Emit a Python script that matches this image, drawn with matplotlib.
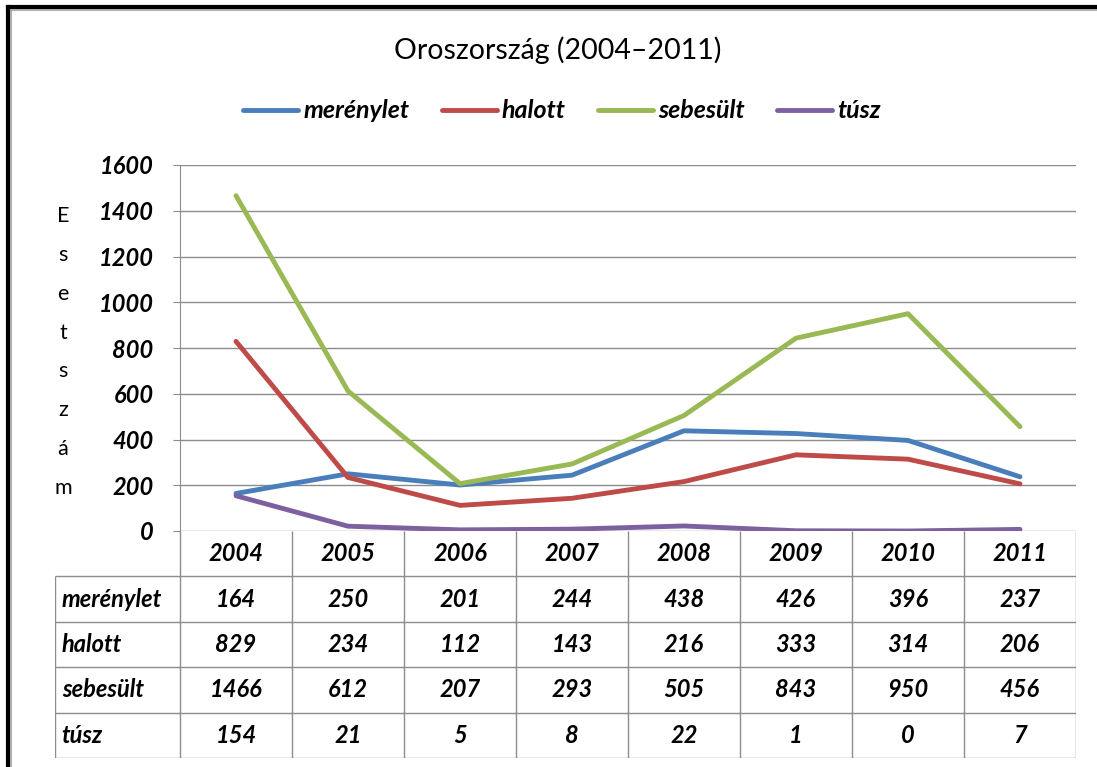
import matplotlib
matplotlib.use("Agg")
import matplotlib.pyplot as plt
from matplotlib.lines import Line2D

plt.rcParams['font.family'] = ['Lato', 'DejaVu Sans']

# adatok
years = ['2004', '2005', '2006', '2007', '2008', '2009', '2010', '2011']
merenylet = [164, 250, 201, 244, 438, 426, 396, 237]
halott = [829, 234, 112, 143, 216, 333, 314, 206]
sebesult = [1466, 612, 207, 293, 505, 843, 950, 456]
tusz = [154, 21, 5, 8, 22, 1, 0, 7]

series_names = ['merénylet', 'halott', 'sebesült', 'túsz']
series_values = [merenylet, halott, sebesult, tusz]
colors = ['#4A7EBB', '#BE4B48', '#98B954', '#7D60A0']

W, H = 1097, 767
fig = plt.figure(figsize=(W / 100, H / 100), dpi=100)
grid_c = '#8C8C8C'
bi = dict(fontsize=17, fontweight='bold', fontstyle='italic')

# plot area in pixels: x 180..1076, y 165..531
x0, x1, ytop, ybot = 180, 1076, 165, 531
ax = fig.add_axes([x0 / W, (H - ybot) / H, (x1 - x0) / W, (ybot - ytop) / H])

X = list(range(len(years)))
for name, vals, c in zip(series_names, series_values, colors):
    ax.plot(X, vals, color=c, lw=3.5, label=name, solid_capstyle='round', solid_joinstyle='round')

ax.set_xlim(-0.5, len(years) - 0.5)
ax.set_ylim(0, 1600)
ax.set_yticks(range(0, 1601, 200))
ax.set_xticks([])
ax.grid(axis='y', color=grid_c, lw=1)
ax.set_axisbelow(True)
for s in ['top', 'right', 'bottom']:
    ax.spines[s].set_visible(False)
ax.spines['left'].set_color(grid_c)
ax.tick_params(axis='y', direction='out', length=5, color=grid_c, pad=14)
for lab in ax.get_yticklabels():
    lab.set_fontsize(17)
    lab.set_fontweight('bold')
    lab.set_fontstyle('italic')

# data table under the plot, in its own axes (x in category units, y in rows)
tab_left, tab_bot = 55, 758
col_px = (x1 - x0) / len(years)
xl = -0.5 - (x0 - tab_left) / col_px
tab_ax = fig.add_axes([tab_left / W, (H - tab_bot) / H, (x1 - tab_left) / W, (tab_bot - ybot) / H])
tab_ax.set_xlim(xl, len(years) - 0.5)
tab_ax.set_ylim(0, 5)
tab_ax.axis('off')
n = len(series_names)
# grid lines
tab_ax.vlines([k - 0.5 for k in range(len(years) + 1)], 0, n + 1, color=grid_c, lw=1)
tab_ax.vlines([xl + 0.002], 0, n, color=grid_c, lw=1)
tab_ax.hlines(range(n + 1), xl, len(years) - 0.5, color=grid_c, lw=1)
# header
for j, yr in enumerate(years):
    tab_ax.text(j, n + 0.5, yr, ha='center', va='center', **bi)
# rows
for i, (name, vals) in enumerate(zip(series_names, series_values)):
    yrow = n - i - 0.5
    tab_ax.text(xl + 0.06, yrow, name, ha='left', va='center', **bi)
    for j, v in enumerate(vals):
        tab_ax.text(j, yrow, str(v), ha='center', va='center', **bi)

# title, legend, y label
fig.text(558 / W, 1 - 50 / H, 'Oroszország (2004–2011)', ha='center', va='center', fontsize=20.5)
fig.legend(loc='center', bbox_to_anchor=(562 / W, 1 - 111 / H), ncol=4, frameon=False,
           prop={'size': 18, 'weight': 'bold', 'style': 'italic'},
           handlelength=2.2, handletextpad=0.2, columnspacing=1.3)
fig.text(63 / W, 1 - 352 / H, '\n'.join('Esetszám'), ha='center', va='center',
         fontsize=15.5, linespacing=2.18)

# keret (csak felul es bal oldalt latszik)
for lw, c, off in [(3, 'black', 8), (1.2, '#A0A0A0', 10.5)]:
    fig.add_artist(Line2D([off / W, 1.0], [1 - (off - 1) / H] * 2, color=c, lw=lw,
                          transform=fig.transFigure))
    fig.add_artist(Line2D([off / W] * 2, [0, 1 - (off - 1) / H], color=c, lw=lw,
                          transform=fig.transFigure))

fig.savefig('out.png', dpi=100)
